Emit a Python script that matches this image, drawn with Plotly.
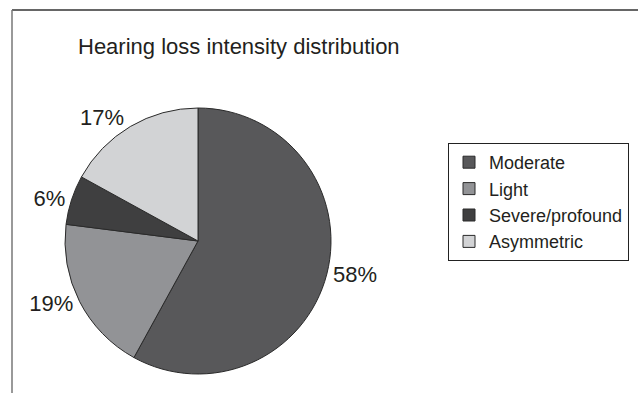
import plotly.graph_objects as go

categories = ["Moderate", "Light", "Severe/profound", "Asymmetric"]
values = [58, 19, 6, 17]
colors = ["#58585a", "#929396", "#3f3f40", "#d2d3d5"]
title_text = "Hearing loss intensity distribution"

W, H = 638, 393
cx, cy, r = 198, 241, 133

fig = go.Figure(go.Pie(
    labels=categories,
    values=values,
    sort=False,
    direction="clockwise",
    rotation=0,
    marker=dict(colors=colors, line=dict(color="#2a2a2a", width=1)),
    textinfo="percent",
    texttemplate="%{percent:.0%}",
    textposition="outside",
    outsidetextfont=dict(size=22, color="#231f20", family="Liberation Sans, Arial, sans-serif"),
    domain=dict(x=[(cx - r) / W, (cx + r) / W], y=[(H - cy - r) / H, (H - cy + r) / H]),
    showlegend=True,
    hoverinfo="label+percent",
))

fig.update_layout(
    width=W, height=H,
    margin=dict(l=0, r=0, t=0, b=0),
    paper_bgcolor="white",
    plot_bgcolor="white",
    font=dict(family="Liberation Sans, Arial, sans-serif", color="#231f20"),
    title=dict(text=title_text, x=78 / W, xanchor="left", y=1 - 46 / H, yanchor="middle",
               font=dict(size=22, color="#231f20")),
    legend=dict(
        x=448 / W, xanchor="left", y=1 - 143 / H, yanchor="top",
        bordercolor="#222", borderwidth=1,
        font=dict(size=18, color="#231f20"),
        bgcolor="white",
    ),
    shapes=[
        dict(type="line", xref="paper", yref="paper", x0=12 / W, x1=1, y0=1 - 10 / H, y1=1 - 10 / H,
             line=dict(color="#333", width=1.5)),
        dict(type="line", xref="paper", yref="paper", x0=12 / W, x1=12 / W, y0=0, y1=1 - 10 / H,
             line=dict(color="#777", width=1.5)),
    ],
)

fig.write_html("out.html")
